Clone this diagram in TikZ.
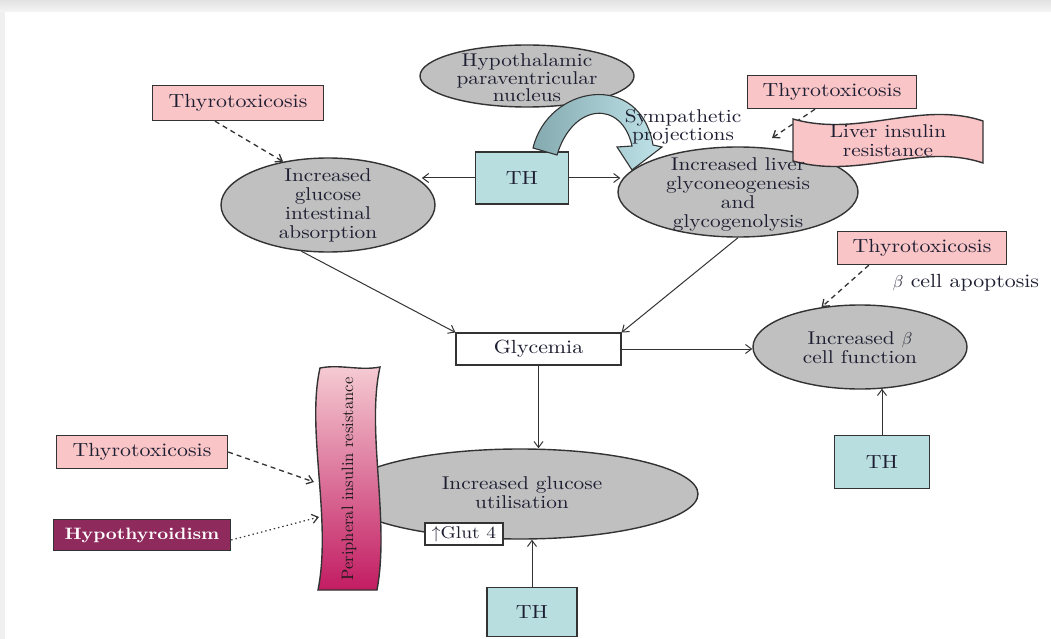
\documentclass[tikz,border=0pt]{standalone}
\usepackage{fontspec}
\setmainfont{lmroman10-regular}[Extension=.otf, BoldFont=lmroman10-bold, ItalicFont=lmroman10-italic, FakeStretch=1.15]
\usetikzlibrary{shapes.geometric,arrows.meta}
\definecolor{pinkfill}{HTML}{F9C5C7}
\definecolor{ellgray}{HTML}{C0C0C0}
\definecolor{thfill}{HTML}{B8DEE0}
\definecolor{hypofill}{HTML}{8E2B5C}
\definecolor{txt}{HTML}{1E1E32}
\definecolor{edge}{HTML}{333333}
\definecolor{pirtop}{HTML}{F6CDD4}
\definecolor{pirbot}{HTML}{C21C62}
\definecolor{arrdark}{HTML}{84AAB0}
\definecolor{arrlight}{HTML}{BFE3E8}
\newcommand\lblfont{\fontsize{19}{20}\selectfont}
\newcommand\ellfont{\fontsize{18.5}{19}\selectfont}
\tikzset{
  thyro/.style={draw=edge, line width=1.4pt, fill=pinkfill, inner sep=0pt, font=\lblfont, text=txt},
  thbox/.style={draw=edge, line width=1.4pt, fill=thfill, inner sep=0pt, font=\lblfont, text=txt},
  ell/.style={ellipse, draw=edge, line width=1.4pt, fill=ellgray, inner sep=0pt},
  etext/.style={align=center, font=\ellfont, text=txt, inner sep=0pt},
  arr/.style={draw=edge, line width=1pt, -{Straight Barb[length=6pt,width=9pt]}},
  dasharr/.style={arr, line width=1.3pt, dash pattern=on 5pt off 4pt},
  dotarr/.style={arr, line width=1.2pt, dash pattern=on 1.4pt off 3pt},
}
\begin{document}
\begin{tikzpicture}[x=1pt,y=-1pt]
\useasboundingbox (0,0) rectangle (1051,639);
% background card
\fill[gray!12] (0,0) rectangle (1051,639);
\shade[top color=gray!22, bottom color=gray!8] (0,0) rectangle (1051,12);
\fill[white] (5,12) rectangle (1051,639);

% coordinates for free ends
\coordinate (lirTip) at (772,138);
\coordinate (pirA) at (314,482);
\coordinate (pirB) at (319,517);

% ellipses
\node[ell, minimum width=214pt, minimum height=62pt] (hyp) at (527,76) {};
\node[ell, minimum width=214pt, minimum height=94pt] (intestine) at (328,205) {};
\node[ell, minimum width=240pt, minimum height=90pt] (liver) at (738,192) {};
\node[ell, minimum width=214pt, minimum height=84pt] (beta) at (860,347) {};
\node[ell, minimum width=356pt, minimum height=90pt] (util) at (520,494) {};

% boxes
\node[thyro, minimum width=171pt, minimum height=35pt] (thyA) at (238,103) {Thyrotoxicosis};
\node[thyro, minimum width=169pt, minimum height=33pt] (thyB) at (832,92) {Thyrotoxicosis};
\node[thyro, minimum width=169pt, minimum height=33pt] (thyC) at (922,248) {Thyrotoxicosis};
\node[thyro, minimum width=171pt, minimum height=33pt] (thyD) at (142,452) {Thyrotoxicosis};
\node[draw=edge, line width=1.4pt, fill=hypofill, text=white, font=\fontsize{16.5}{17}\selectfont\bfseries, inner sep=0pt,
      minimum width=177pt, minimum height=31pt] (hypo) at (142,535) {Hypothyroidism};
\node[thbox, minimum width=93pt, minimum height=52pt] (th1) at (522,178) {TH};
\node[thbox, minimum width=95pt, minimum height=53pt] (th2) at (882,462) {TH};
\node[thbox, minimum width=90pt, minimum height=49pt] (th3) at (532,612) {TH};
\node[draw=edge, line width=1.1pt, fill=white, inner sep=0pt, font=\lblfont, text=txt,
      minimum width=165pt, minimum height=32pt] (glyc) at (538.5,349) {Glycemia};
\node[draw=edge, line width=1.1pt, fill=white, inner sep=0pt, font=\fontsize{17}{18}\selectfont, text=txt,
      minimum width=78pt, minimum height=22pt] (glut) at (464,534) {$\uparrow$Glut 4};

% connectors
\draw[arr] (th1.west) -- (th1.west -| intestine.14);
\draw[arr] (th1.east) -- (th1.east -| liver.175);
\draw[arr] (intestine.240) -- (glyc.north west);
\draw[arr] (liver.south) -- (glyc.north east);
\draw[arr] (glyc.east) -- (glyc.east -| beta.west);
\draw[arr] (glyc.south) -- (glyc.south |- util.north);
\draw[arr] (th3.north) -- (th3.north |- util.south);
\draw[arr] (th2.north) -- ([yshift=1pt]th2.north |- beta.south);
\draw[dasharr] ([xshift=-23pt]thyA.south) -- (intestine.136);
\draw[dasharr] ([xshift=-17pt]thyB.south) -- (lirTip);
\draw[dasharr] ([xshift=32pt]thyC.south west) -- (beta.134);
\draw[dasharr] (thyD.east) -- (pirA);
\draw[dotarr] ([yshift=-5pt]hypo.east) -- (pirB);

% Liver insulin resistance banner
\filldraw[fill=pinkfill, draw=edge, line width=1.4pt]
  (793,119) .. controls (860,138) and (920,100) .. (983,121)
  -- (983,163) .. controls (920,142) and (860,180) .. (793,161) -- cycle;
\node[etext] (lir) at (888,141) {Liver insulin\\resistance};

% Peripheral insulin resistance banner
\shade[top color=pirtop, bottom color=pirbot, draw=edge, line width=1.4pt]
  (320,368) .. controls (306,430) and (332,520) .. (318,590)
  -- (377,590) .. controls (390,520) and (366,430) .. (380,367)
  .. controls (360,371) and (340,364) .. (320,368) -- cycle;
\node[rotate=90, font=\fontsize{16.5}{17}\selectfont\addfontfeatures{FakeStretch=1.0}, text=black!90, inner sep=0pt] (pir) at (349,479) {Peripheral insulin resistance};

% block curved arrow (sympathetic projections)
\shade[left color=arrdark, right color=arrlight, draw=edge, line width=1.1pt]
  (533,148) .. controls (548,85) and (640,70) .. (653,145)
  -- (662,147) -- (632,170) -- (617,147) -- (632,146)
  .. controls (622,100) and (573,102) .. (557,155) -- cycle;

% texts
\node[etext, font=\fontsize{18.5}{17.5}\selectfont] (hyptext) at (527,78) {Hypothalamic\\paraventricular\\nucleus};
\node[etext] (inttext) at (328,205) {Increased\\glucose\\intestinal\\absorption};
\node[etext] (livtext) at (738,194) {Increased liver\\glyconeogenesis\\and\\glycogenolysis};
\node[etext] (betatext) at (860,348) {Increased $\beta$\\cell function};
\node[etext] (utiltext) at (522,493) {Increased glucose\\utilisation};
\node[etext, font=\fontsize{18.5}{18}\selectfont] (symp) at (683,127) {Sympathetic\\projections};
\node[font=\lblfont, text=txt, inner sep=0pt] (apop) at (966,283) {$\beta$ cell apoptosis};
\end{tikzpicture}
\end{document}
